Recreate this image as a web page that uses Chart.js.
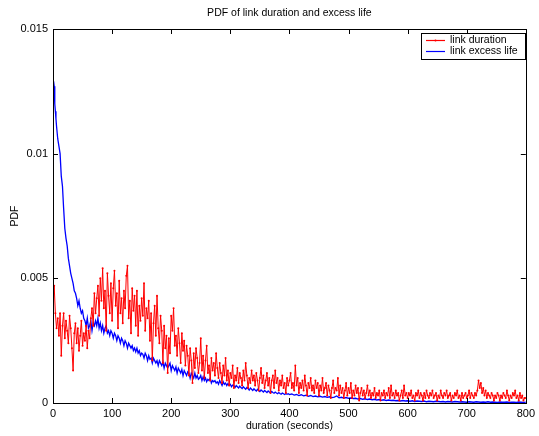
<!DOCTYPE html>
<html>
<head>
<meta charset="utf-8">
<script src="https://cdn.jsdelivr.net/npm/chart.js@4"></script>
<style>
  html, body { margin: 0; padding: 0; background: #fff; }
  #chart-pdf { display: block; }
</style>
</head>
<body>
<canvas id="chart-pdf" width="539" height="436"></canvas>
<script>
// link duration PDF, one value every 2 seconds from 0 to 800 (rows of 20 s)
const red_step = 2;
const red_pdf = [
    0.0038, 0.0047, 0.0036, 0.0030, 0.0034, 0.0027, 0.0036, 0.0019, 0.0031, 0.0036,
    0.0026, 0.0033, 0.0029, 0.0024, 0.0035, 0.0030, 0.0022, 0.0013, 0.0028, 0.0032,
    0.0024, 0.0030, 0.0021, 0.0027, 0.0033, 0.0023, 0.0028, 0.0025, 0.0031, 0.0022,
    0.0029, 0.0026, 0.0034, 0.0038, 0.0031, 0.0044, 0.0036, 0.0042, 0.0047, 0.0035,
    0.0050, 0.0041, 0.0054, 0.0038, 0.0045, 0.0029, 0.0052, 0.0043, 0.0036, 0.0048,
    0.0033, 0.0046, 0.0053, 0.0039, 0.0044, 0.0030, 0.0049, 0.0036, 0.0042, 0.0032,
    0.0045, 0.0038, 0.0051, 0.0055, 0.0034, 0.0041, 0.0028, 0.0046, 0.0037, 0.0043,
    0.0031, 0.0045, 0.0027, 0.0039, 0.0033, 0.0042, 0.0035, 0.0048, 0.0029, 0.0038,
    0.0034, 0.0041, 0.0025, 0.0036, 0.0017, 0.0032, 0.0039, 0.0027, 0.0043, 0.0030,
    0.0024, 0.0035, 0.0029, 0.0016, 0.0031, 0.0022, 0.0027, 0.0012, 0.0026, 0.0020,
    0.0035, 0.0029, 0.0038, 0.0023, 0.0027, 0.0019, 0.0030, 0.0024, 0.0016, 0.0028,
    0.0021, 0.0025, 0.0015, 0.0023, 0.0019, 0.0011, 0.0022, 0.0017, 0.0008, 0.0020,
    0.0014, 0.0022, 0.0018, 0.0012, 0.0016, 0.0026, 0.0013, 0.0019, 0.0010, 0.0017,
    0.0023, 0.0012, 0.0015, 0.0009, 0.0018, 0.0013, 0.0016, 0.0011, 0.0020, 0.0014,
    0.0010, 0.0016, 0.0012, 0.0008, 0.0015, 0.0011, 0.0018, 0.0009, 0.0013, 0.0007,
    0.0012, 0.0010, 0.0015, 0.0006, 0.0011, 0.0009, 0.0014, 0.0008, 0.0012, 0.0010,
    0.0007, 0.0013, 0.0009, 0.0016, 0.0011, 0.0006, 0.0010, 0.0008, 0.0013, 0.0009,
    0.0011, 0.0007, 0.0012, 0.0009, 0.0005, 0.0010, 0.0014, 0.0008, 0.0011, 0.0006,
    0.0009, 0.0012, 0.0007, 0.0010, 0.0004, 0.0009, 0.0011, 0.0006, 0.0013, 0.0008,
    0.0010, 0.0005, 0.0009, 0.0007, 0.0011, 0.0006, 0.0008, 0.0004, 0.0010, 0.0007,
    0.0009, 0.0012, 0.0006, 0.0008, 0.0005, 0.0015, 0.0007, 0.0010, 0.0004, 0.0008,
    0.0006, 0.0009, 0.0005, 0.0011, 0.0007, 0.0003, 0.0008, 0.0006, 0.0010, 0.0005,
    0.0007, 0.0004, 0.0009, 0.0006, 0.0008, 0.0003, 0.0007, 0.0005, 0.0010, 0.0004,
    0.0006, 0.0008, 0.0003, 0.0007, 0.0005, 0.0002, 0.0006, 0.0009, 0.0004, 0.0006,
    0.0005, 0.0010, 0.0003, 0.0007, 0.0004, 0.0006, 0.0002, 0.0005, 0.0008, 0.0003,
    0.0006, 0.0004, 0.0008, 0.0002, 0.0005, 0.0003, 0.0007, 0.0004, 0.0006, 0.0001,
    0.0004, 0.0006, 0.0003, 0.0005, 0.0002, 0.0004, 0.0007, 0.0003, 0.0005, 0.0002,
    0.0004, 0.0003, 0.0006, 0.0002, 0.0004, 0.0003, 0.0005, 0.0001, 0.0004, 0.0003,
    0.0005, 0.0002, 0.0004, 0.0003, 0.0006, 0.0002, 0.0007, 0.0003, 0.0004, 0.0002,
    0.0005, 0.0003, 0.0004, 0.0001, 0.0003, 0.0005, 0.0002, 0.0007, 0.0003, 0.0004,
    0.0002, 0.0004, 0.0003, 0.0005, 0.0002, 0.0003, 0.0001, 0.0004, 0.0003, 0.0005,
    0.0002, 0.0004, 0.0003, 0.0001, 0.0004, 0.0002, 0.0005, 0.0003, 0.0002, 0.0004,
    0.0003, 0.0005, 0.0002, 0.0003, 0.0004, 0.0001, 0.0003, 0.0002, 0.0005, 0.0003,
    0.0002, 0.0004, 0.0003, 0.0005, 0.0002, 0.0003, 0.0004, 0.0001, 0.0003, 0.0002,
    0.0004, 0.0003, 0.0005, 0.0002, 0.0003, 0.0001, 0.0004, 0.0002, 0.0003, 0.0004,
    0.0002, 0.0003, 0.0005, 0.0002, 0.0004, 0.0003, 0.0002, 0.0004, 0.0003, 0.0005,
    0.0009, 0.0006, 0.0008, 0.0004, 0.0006, 0.0003, 0.0005, 0.0002, 0.0004, 0.0003,
    0.0002, 0.0004, 0.0003, 0.0001, 0.0003, 0.0002, 0.0004, 0.0003, 0.0001, 0.0003,
    0.0002, 0.0004, 0.0003, 0.0002, 0.0005, 0.0003, 0.0001, 0.0003, 0.0002, 0.0004,
    0.0003, 0.0005, 0.0002, 0.0003, 0.0001, 0.0004, 0.0002, 0.0003, 0.0001, 0.0002,
    0.0002
];

// link excess life PDF: irregular samples at the start ...
const blue_start_duration = [1, 2, 3, 4, 5, 6, 8, 10, 12, 14, 16, 18, 20, 22, 24, 26, 28, 30, 32];
const blue_start_pdf = [
    0.0129, 0.0127, 0.0120, 0.0117, 0.0114, 0.0111, 0.0106, 0.0103, 0.0100, 0.0091,
    0.0087, 0.0078, 0.0070, 0.0066, 0.0063, 0.0058, 0.0055, 0.0052, 0.0050
];
// ... every 2 seconds from 34 to 400 ...
const blue_mid_from = 34;
const blue_mid_step = 2;
const blue_mid_pdf = [
    0.0048, 0.0045, 0.0044, 0.0042, 0.0039, 0.0041, 0.0038, 0.0036, 0.0037, 0.0034,
    0.0033, 0.0031, 0.0034, 0.0030, 0.0031, 0.0033, 0.0029, 0.0032, 0.0031, 0.0033,
    0.0031, 0.0034, 0.0030, 0.0032, 0.0029, 0.0031, 0.0028, 0.0030, 0.0031, 0.0028,
    0.0029, 0.0027, 0.0029, 0.0028, 0.0026, 0.0028, 0.0027, 0.0025, 0.0027, 0.0026,
    0.0024, 0.0026, 0.0025, 0.0023, 0.0025, 0.0024, 0.0022, 0.0024, 0.0023, 0.0022,
    0.0023, 0.0021, 0.0022, 0.00205, 0.0022, 0.0020, 0.0021, 0.0019, 0.0020, 0.00195,
    0.0018, 0.0020, 0.0019, 0.0017, 0.0019, 0.00175, 0.0018, 0.0016, 0.0018, 0.0017,
    0.0016, 0.0017, 0.0015, 0.0017, 0.0016, 0.0015, 0.00165, 0.0014, 0.0016, 0.0015,
    0.0014, 0.0015, 0.0016, 0.0013, 0.0015, 0.0014, 0.0013, 0.00145, 0.0012, 0.0014,
    0.0013, 0.0012, 0.00135, 0.0011, 0.0013, 0.0012, 0.0011, 0.00125, 0.0012, 0.0010,
    0.0012, 0.0011, 0.0010, 0.0012, 0.0010, 0.0011, 0.00095, 0.0010, 0.0011, 0.0009,
    0.00105, 0.0009, 0.0010, 0.00085, 0.00095, 0.0009, 0.0010, 0.0008, 0.0009, 0.00085,
    0.0009, 0.0008, 0.00085, 0.00075, 0.0009, 0.0008, 0.0007, 0.00085, 0.00075, 0.0008,
    0.0007, 0.00078, 0.0007, 0.00075, 0.00065, 0.00072, 0.0007, 0.00062, 0.0007, 0.00065,
    0.0006, 0.00068, 0.00062, 0.00058, 0.00065, 0.0006, 0.00055, 0.00062, 0.00058, 0.00052,
    0.0006, 0.00055, 0.0005, 0.00057, 0.00052, 0.00048, 0.00055, 0.0005, 0.00046, 0.00052,
    0.00048, 0.00044, 0.0005, 0.00046, 0.00042, 0.00048, 0.00044, 0.0004, 0.00046, 0.00042,
    0.00039, 0.00044, 0.0004, 0.00037, 0.00042, 0.00038, 0.00035, 0.0004, 0.00037, 0.00034,
    0.00038, 0.00035, 0.00037, 0.00034
];
// ... and every 4 seconds from 404 to 800
const blue_tail_from = 404;
const blue_tail_step = 4;
const blue_tail_pdf = [
    0.00036, 0.00032, 0.00034, 0.0003, 0.00033, 0.00029, 0.00031, 0.00027, 0.0003, 0.00026,
    0.00028, 0.00025, 0.00027, 0.00024, 0.00026, 0.00023, 0.00025, 0.00022, 0.00024, 0.00028,
    0.00021, 0.00023, 0.0002, 0.00022, 0.00019, 0.0002, 0.00018, 0.00019, 0.00016, 0.00018,
    0.00015, 0.00017, 0.00014, 0.00016, 0.00013, 0.00015, 0.00012, 0.00014, 0.00011, 0.00013,
    0.0001, 0.00012, 0.0001, 0.00011, 0.00009, 0.0001, 0.00008, 0.0001, 0.00008, 0.00009,
    0.00007, 0.00009, 0.00006, 0.00008, 0.00007, 0.00006, 0.00008, 0.00005, 0.00007, 0.00006,
    0.00005, 0.00007, 0.00006, 0.00005, 0.00006, 0.00004, 0.00006, 0.00005, 0.00004, 0.00006,
    0.00005, 0.00004, 0.00005, 0.00004, 0.00003, 0.00005, 0.00004, 0.00003, 0.00005, 0.00004,
    0.00003, 0.00004, 0.00003, 0.00005, 0.00003, 0.00004, 0.00003, 0.00002, 0.00004, 0.00003,
    0.00003, 0.00004, 0.00002, 0.00003, 0.00003, 0.00002, 0.00004, 0.00003, 0.00002, 0.00003
];

const x_ticks = [0, 100, 200, 300, 400, 500, 600, 700, 800];
const y_ticks = [0, 0.005, 0.01, 0.015];

const series_labels = ['link duration', 'link excess life'];
const title_text = 'PDF of link duration and excess life';
const x_title = 'duration (seconds)';
const y_title = 'PDF';

const FONT = '"Liberation Sans", Arial, Helvetica, sans-serif';

const red_points = red_pdf.map((v, i) => ({ x: i * red_step, y: v }));
const blue_points = blue_start_pdf.map((v, i) => ({ x: blue_start_duration[i], y: v }))
    .concat(blue_mid_pdf.map((v, i) => ({ x: blue_mid_from + i * blue_mid_step, y: v })))
    .concat(blue_tail_pdf.map((v, i) => ({ x: blue_tail_from + i * blue_tail_step, y: v })));

// matlab-like frame: inward ticks on all four sides, titles, boxed legend
const matlab_frame = {
    id: 'matlabFrame',
    afterDraw(chart) {
        const ctx = chart.ctx;
        const a = chart.chartArea;
        const xs = chart.scales.x;
        const ys = chart.scales.y;
        const tl = 5;
        ctx.save();
        ctx.strokeStyle = '#000';
        ctx.lineWidth = 1;
        ctx.beginPath();
        x_ticks.forEach(t => {
            const px = Math.round(xs.getPixelForValue(t)) + 0.5;
            ctx.moveTo(px, a.bottom); ctx.lineTo(px, a.bottom - tl);
            ctx.moveTo(px, a.top); ctx.lineTo(px, a.top + tl);
        });
        y_ticks.forEach(t => {
            const py = Math.round(ys.getPixelForValue(t)) + 0.5;
            ctx.moveTo(a.left, py); ctx.lineTo(a.left + tl, py);
            ctx.moveTo(a.right, py); ctx.lineTo(a.right - tl, py);
        });
        ctx.stroke();
        ctx.strokeRect(Math.round(a.left) + 0.5, Math.round(a.top) + 0.5,
            Math.round(a.right - a.left), Math.round(a.bottom - a.top));

        // titles
        ctx.fillStyle = '#000';
        ctx.font = '10.5px ' + FONT;
        ctx.textAlign = 'center';
        ctx.textBaseline = 'middle';
        const cx = (a.left + a.right) / 2;
        ctx.fillText(title_text, cx, 13);
        ctx.fillText(x_title, cx, 426);
        ctx.save();
        ctx.translate(15, (a.top + a.bottom) / 2);
        ctx.rotate(-Math.PI / 2);
        ctx.fillText(y_title, 0, 0);
        ctx.restore();

        // legend
        const lx = 421, ly = 33, lw = 104, lh = 26;
        ctx.fillStyle = '#fff';
        ctx.fillRect(lx, ly, lw, lh);
        ctx.strokeRect(lx + 0.5, ly + 0.5, lw, lh);
        chart.data.datasets.forEach((ds, i) => {
            const yy = ly + 7.5 + i * 11;
            ctx.strokeStyle = ds.borderColor;
            ctx.lineWidth = 1.2;
            ctx.beginPath();
            ctx.moveTo(lx + 5, yy);
            ctx.lineTo(lx + 24, yy);
            ctx.stroke();
            if (ds.pointRadius) {
                ctx.fillStyle = ds.borderColor;
                ctx.beginPath();
                ctx.arc(lx + 14.5, yy, 1, 0, Math.PI * 2);
                ctx.fill();
            }
            ctx.fillStyle = '#000';
            ctx.textAlign = 'left';
            ctx.fillText(ds.label, lx + 29, yy);
        });
        ctx.restore();
    }
};

const data_pdf = {
    datasets: [{
        label: series_labels[0],
        data: red_points,
        borderColor: 'rgb(255, 0, 0)',
        backgroundColor: 'rgb(255, 0, 0)',
        borderWidth: 1,
        pointRadius: 1,
        pointBorderWidth: 0,
        pointBackgroundColor: 'rgb(255, 0, 0)',
        tension: 0,
    },
    {
        label: series_labels[1],
        data: blue_points,
        borderColor: 'rgb(0, 0, 255)',
        backgroundColor: 'rgb(0, 0, 255)',
        borderWidth: 1.3,
        pointRadius: 0,
        tension: 0,
    }]
};

const config_pdf = {
    type: 'line',
    data: data_pdf,
    plugins: [matlab_frame],
    options: {
        responsive: false,
        animation: false,
        devicePixelRatio: 1,
        layout: {
            padding: { top: 29, right: 10, left: 0, bottom: 0 }
        },
        plugins: {
            legend: { display: false },
            title: { display: false },
            tooltip: { enabled: false }
        },
        scales: {
            x: {
                type: 'linear',
                min: 0,
                max: 800,
                afterFit: (s) => { s.height = 33; },
                afterBuildTicks: (s) => { s.ticks = x_ticks.map(v => ({ value: v })); },
                grid: { display: false, drawTicks: false },
                border: { display: false },
                ticks: {
                    color: '#000',
                    padding: 4,
                    maxRotation: 0,
                    font: { family: FONT, size: 11 }
                }
            },
            y: {
                type: 'linear',
                min: 0,
                max: 0.015,
                afterFit: (s) => { s.width = 53; },
                afterBuildTicks: (s) => { s.ticks = y_ticks.map(v => ({ value: v })); },
                grid: { display: false, drawTicks: false },
                border: { display: false },
                ticks: {
                    color: '#000',
                    padding: 5,
                    font: { family: FONT, size: 11 },
                    callback: (v) => String(+v.toFixed(4))
                }
            }
        }
    }
};

var chart_pdf = new Chart(
    document.getElementById('chart-pdf'),
    config_pdf
);
</script>
</body>
</html>
